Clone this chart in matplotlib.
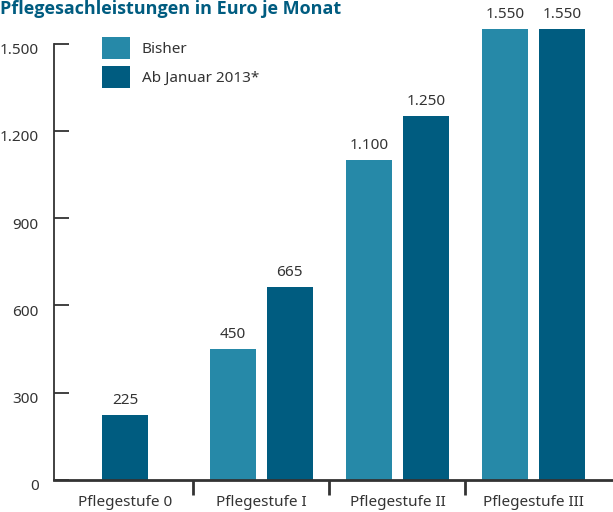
import numpy as np
import matplotlib.pyplot as plt
from matplotlib.patches import Patch
from matplotlib.transforms import ScaledTranslation


# --------------------------------------------------------------------------------------------------

categories = ['Pflegestufe 0', 'Pflegestufe I', 'Pflegestufe II', 'Pflegestufe III']
bisher = [None, 450, 1100, 1550]
ab_2013 = [225, 665, 1250, 1550]
series_labels = ['Bisher', 'Ab Januar 2013*']
y_ticks = [0, 300, 600, 900, 1200, 1500]

title = 'Pflegesachleistungen in Euro je Monat'

col_bisher = '#2689a8'
col_ab = '#005c80'
col_text = '#333333'


def de_format(v):
    return f'{v:,.0f}'.replace(',', '.')


# --------------------------------------------------------------------------------------------------

plt.rcParams['font.family'] = ['Noto Sans', 'DejaVu Sans']

fig = plt.figure(figsize=(6.13, 5.12), dpi=100)
ax = fig.add_axes([54 / 613, 32 / 512, 559 / 613, 480 / 512])

# Bars
# ----
width = 0.338
offset = 0.209
for i in range(len(categories)):
    pairs = [(bisher[i], col_bisher), (ab_2013[i], col_ab)]
    pairs = [p for p in pairs if p[0] is not None]
    if len(pairs) == 1:
        xs = [i]
    else:
        xs = [i - offset, i + offset]
    for x, (v, c) in zip(xs, pairs):
        ax.bar(x, v, width=width, color=c, linewidth=0)
        ax.annotate(de_format(v), (x, v), xytext=(0, 5), textcoords='offset points',
                    ha='center', va='bottom', fontsize=11, color=col_text)

# Axes styling
# ------------
ax.set_xlim(-0.521, 3.583)
ax.set_ylim(0, 1650)
for s in ['top', 'right']:
    ax.spines[s].set_visible(False)
ax.spines['left'].set_bounds(0, 1500)
ax.spines['left'].set_linewidth(1.3)
ax.spines['left'].set_color(col_text)
ax.spines['bottom'].set_linewidth(2)
ax.spines['bottom'].set_color(col_text)

ax.set_yticks(y_ticks)
ax.set_yticklabels([de_format(v) for v in y_ticks])
ax.tick_params(axis='y', direction='in', length=11, width=1.3, color=col_text,
               labelsize=11, labelcolor=col_text, pad=11)
for lab in ax.get_yticklabels():
    lab.set_transform(lab.get_transform() + ScaledTranslation(0, -0.05, fig.dpi_scale_trans))

ax.set_xticks([0.5, 1.5, 2.5])
ax.set_xticklabels([])
ax.tick_params(axis='x', which='major', direction='out', length=11, width=2, color=col_text)
ax.set_xticks(range(len(categories)), minor=True)
ax.set_xticklabels(categories, minor=True)
ax.tick_params(axis='x', which='minor', length=0, pad=11, labelsize=11, labelcolor=col_text)

# Legend
# ------
handles = [Patch(facecolor=col_bisher, linewidth=0), Patch(facecolor=col_ab, linewidth=0)]
leg = ax.legend(handles, series_labels, loc='upper left', bbox_to_anchor=(0.086, 0.923),
                frameon=False, fontsize=11, handlelength=1.8, handleheight=1.8,
                handletextpad=0.8, labelspacing=0.5, borderpad=0, borderaxespad=0)
for t in leg.get_texts():
    t.set_color(col_text)

# Title
# -----
fig.text(0.0, 1 - 14 / 512, title, ha='left', va='baseline', fontsize=13,
         fontweight='bold', family=['Open Sans', 'DejaVu Sans'], color=col_ab)

plt.savefig('out.png', dpi=100)
plt.close('all')
